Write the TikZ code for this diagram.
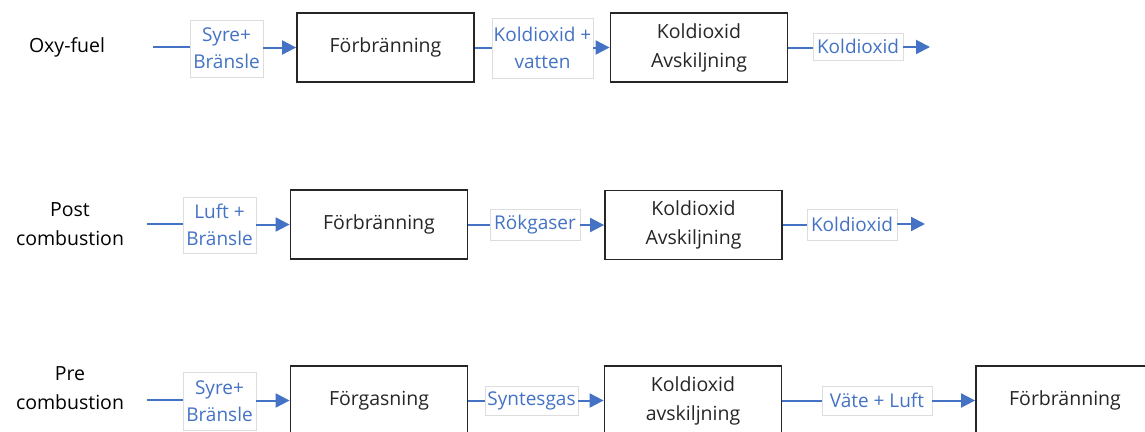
\documentclass[tikz,border=0pt]{standalone}
\usepackage{fontspec}
\setmainfont{Open Sans}
\usetikzlibrary{arrows.meta}
\definecolor{obl}{HTML}{4472C4}
\definecolor{lbd}{HTML}{DDDDDD}
\definecolor{txt}{HTML}{262626}
\tikzset{
  procbox/.style={draw=txt, line width=1.8pt, fill=white, minimum width=177pt, minimum height=69pt, inner sep=0pt, align=center, text=txt, font=\fontsize{19.5}{29}\selectfont},
  flowlbl/.style={draw=lbd, line width=0.7pt, fill=white, inner sep=0pt, align=center, text=obl, font=\fontsize{19}{27}\selectfont},
  rowlbl/.style={align=center, text=black, font=\fontsize{19.5}{29}\selectfont},
  flow/.style={draw=obl, line width=2pt},
  flowarr/.style={flow, -{Triangle[length=14pt,width=14pt]}}
}
\begin{document}
\begin{tikzpicture}[x=1pt,y=-1pt]
\useasboundingbox (0,0) rectangle (1145,431);
\clip (0,0) rectangle (1145,431);
% Row 1
\node[rowlbl] (t1) at (67,47) {Oxy-fuel};
\coordinate (s1) at (153,47);
\node[flowlbl, minimum width=73pt, minimum height=57pt] (l1) at (226.5,48.5) {Syre+\\Bränsle};
\node[procbox] (b1) at (385.5,47.5) {Förbränning};
\node[flowlbl, minimum width=101pt, minimum height=60pt] (l2) at (542.5,48) {Koldioxid +\\vatten};
\node[procbox] (b2) at (699,47.5) {Koldioxid\\Avskiljning};
\node[flowlbl, minimum width=90pt, minimum height=27pt] (l3) at (858,46.5) {Koldioxid};
\coordinate (e1) at (930,47);
\draw[flow] (s1) -- (s1 -| l1.west);
\draw[flowarr] (l1.east |- b1.west) -- (b1.west);
\draw[flow] (b1.east) -- (b1.east -| l2.west);
\draw[flowarr] (l2.east |- b2.west) -- (b2.west);
\draw[flow] (b2.east) -- (b2.east -| l3.west);
\draw[flowarr] (l3.east |- e1) -- (e1);
% Row 2
\node[rowlbl] (t2) at (70,224.5) {Post\\combustion};
\coordinate (s2) at (147,224);
\node[flowlbl, minimum width=73pt, minimum height=56pt] (l4) at (219.5,225) {Luft +\\Bränsle};
\node[procbox] (b3) at (379,224.5) {Förbränning};
\node[flowlbl, minimum width=90pt, minimum height=31pt] (l5) at (535,224.5) {Rökgaser};
\node[procbox] (b4) at (693.5,225) {Koldioxid\\Avskiljning};
\node[flowlbl, minimum width=90pt, minimum height=31pt] (l6) at (852,224.5) {Koldioxid};
\coordinate (e2) at (925,224);
\draw[flow] (s2) -- (s2 -| l4.west);
\draw[flowarr] (l4.east |- b3.west) -- (b3.west);
\draw[flow] (b3.east) -- (b3.east -| l5.west);
\draw[flowarr] (l5.east |- b4.west) -- (b4.west);
\draw[flow] (b4.east) -- (b4.east -| l6.west);
\draw[flowarr] (l6.east |- e2) -- (e2);
% Row 3
\node[rowlbl] (t3) at (70,388) {Pre\\combustion};
\coordinate (s3) at (147,400);
\node[flowlbl, minimum width=73pt, minimum height=58pt] (l7) at (219.5,401) {Syre+\\Bränsle};
\node[procbox] (b5) at (379,400.5) {Förgasning};
\node[flowlbl, minimum width=93pt, minimum height=29pt] (l8) at (531.5,400.5) {Syntesgas};
\node[procbox] (b6) at (693,400.5) {Koldioxid\\avskiljning};
\node[flowlbl, minimum width=110pt, minimum height=29pt] (l9) at (877,400.5) {Väte + Luft};
\node[procbox, minimum width=178pt] (b7) at (1065,400.5) {Förbränning};
\draw[flow] (s3) -- (s3 -| l7.west);
\draw[flowarr] (l7.east |- b5.west) -- (b5.west);
\draw[flow] (b5.east) -- (b5.east -| l8.west);
\draw[flowarr] (l8.east |- b6.west) -- (b6.west);
\draw[flow] (b6.east) -- (b6.east -| l9.west);
\draw[flowarr] (l9.east |- b7.west) -- (b7.west);
\end{tikzpicture}
\end{document}
